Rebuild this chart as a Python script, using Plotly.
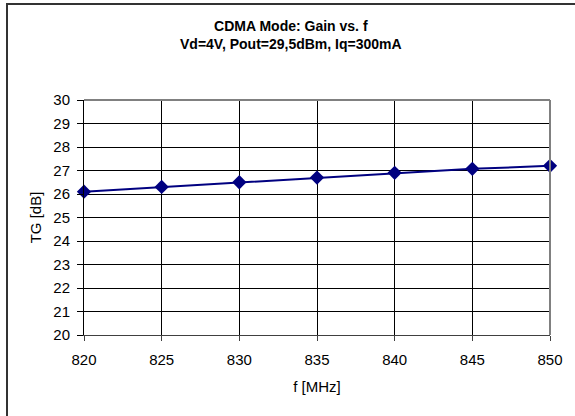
import plotly.graph_objects as go

freq_mhz = [820, 825, 830, 835, 840, 845, 850]
gain_db = [26.1, 26.3, 26.5, 26.7, 26.9, 27.07, 27.2]

title_lines = ["CDMA Mode: Gain vs. f", "Vd=4V, Pout=29,5dBm, Iq=300mA"]
x_title = "f [MHz]"
y_title = "TG [dB]"

W, H = 575, 416
L, R, T, B = 84, 25, 100, 81
pw, ph = W - L - R, H - T - B

def px(x):
    return (x - L) / pw

def py(y):
    return (H - B - y) / ph

fig = go.Figure()
fig.add_trace(go.Scatter(
    x=freq_mhz, y=gain_db, mode="lines+markers",
    line=dict(color="#000080", width=2),
    marker=dict(symbol="diamond", size=11, color="#000080"),
    cliponaxis=False, showlegend=False,
))

font_family = "Liberation Sans, Arial, sans-serif"

fig.update_layout(
    width=W, height=H,
    margin=dict(l=L, r=R, t=T, b=B),
    paper_bgcolor="white", plot_bgcolor="white",
    font=dict(family=font_family, size=15, color="black"),
    showlegend=False,
)

fig.update_xaxes(
    range=[820, 850], dtick=5, tick0=820,
    showgrid=True, gridcolor="black", gridwidth=1,
    showline=True, linecolor="#404040", linewidth=1,
    ticks="outside", ticklen=5, tickcolor="#404040",
    ticklabelstandoff=6,
    zeroline=False,
    title=dict(text=x_title, font=dict(size=15), standoff=14),
)
fig.update_yaxes(
    range=[20, 30], dtick=1, tick0=20,
    showgrid=True, gridcolor="black", gridwidth=1,
    showline=True, linecolor="black", linewidth=1,
    ticks="outside", ticklen=6, tickcolor="black",
    ticklabelstandoff=4,
    zeroline=False,
    title=dict(text=y_title, font=dict(size=15), standoff=8),
)

# plot-area border (top and right, gray)
fig.add_shape(type="line", xref="paper", yref="paper", x0=0, x1=1, y0=1, y1=1,
              line=dict(color="#808080", width=2))
fig.add_shape(type="line", xref="paper", yref="paper", x0=1, x1=1, y0=0, y1=1,
              line=dict(color="#808080", width=2))

# chart-area border (top and left visible)
fig.add_shape(type="line", xref="paper", yref="paper",
              x0=px(6), x1=px(W + 5), y0=py(4), y1=py(4),
              line=dict(color="#333333", width=2))
fig.add_shape(type="line", xref="paper", yref="paper",
              x0=px(7), x1=px(7), y0=py(3), y1=py(H + 5),
              line=dict(color="#333333", width=2))

fig.add_annotation(
    text="<b>" + title_lines[0] + "</b><br><b>" + title_lines[1] + "</b>",
    xref="paper", yref="paper", x=px(291), y=py(35),
    xanchor="center", yanchor="middle", showarrow=False,
    font=dict(size=14, family=font_family), align="center",
)

fig.write_html(
    "out.html",
    config={"displayModeBar": False},
    post_script="document.body.style.margin='0';document.body.style.overflow='hidden';",
)
